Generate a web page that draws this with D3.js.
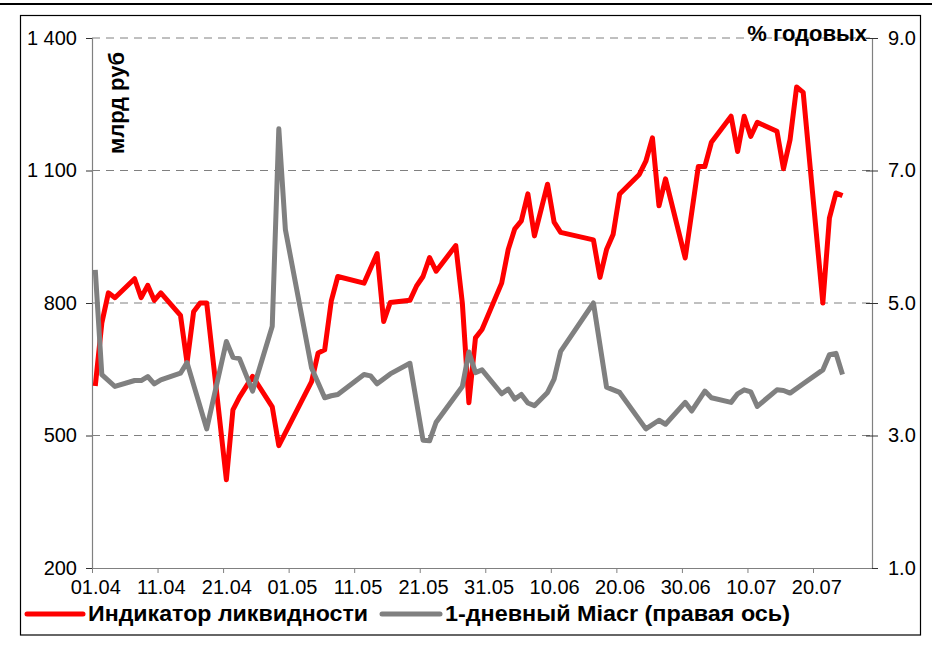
<!DOCTYPE html>
<html>
<head>
<meta charset="utf-8">
<script src="https://cdn.jsdelivr.net/npm/d3@7"></script>
<style>
    body { margin: 0; background: #fff; }
    svg { display: block; font-family: 'Liberation Sans', Arial, sans-serif; }
    .tick-label { font-size: 20px; fill: #000; }
    .title { font-size: 22px; font-weight: bold; fill: #000; }
    .legend-text { font-size: 22px; font-weight: bold; fill: #000; }
</style>
</head>
<body>
<div id="chart"></div>
<script>
// Liquidity indicator, bn rub (left axis)
const redDates = ['01.04','02.04','03.04','04.04','07.04','08.04','09.04','10.04','11.04','14.04',
    '15.04','16.04','17.04','18.04','21.04','22.04','23.04','25.04','28.04','29.04',
    '04.05','05.05','06.05','07.05','08.05','12.05','14.05','15.05','16.05','19.05',
    '20.05','21.05','22.05','23.05','26.05','27.05','28.05','29.05','30.05','02.06',
    '03.06','04.06','05.06','06.06','07.06','09.06','10.06','11.06','16.06','17.06',
    '18.06','19.06','20.06','23.06','24.06','25.06','26.06','27.06','30.06','02.07',
    '03.07','04.07','07.07','08.07','09.07','10.07','11.07','14.07','15.07','16.07',
    '17.07','18.07','21.07','22.07','23.07','24.07']
const redValues = [612, 755, 823, 812, 855, 812, 840, 806, 823, 772,
    665, 780, 800, 800, 400, 558, 587, 634, 565, 477,
    622, 687, 694, 804, 860, 845, 912, 758, 801, 806,
    838, 860, 903, 872, 930, 800, 574, 721, 740, 845,
    921, 968, 986, 1047, 952, 1069, 983, 960, 943, 858,
    921, 955, 1047, 1091, 1121, 1174, 1020, 1081, 902, 1109,
    1109, 1164, 1223, 1143, 1223, 1177, 1209, 1189, 1104, 1170,
    1289, 1277, 800, 992, 1049, 1043]

// 1-day Miacr, % (right axis)
const grayDates = ['01.04','02.04','04.04','07.04','08.04','09.04','10.04','11.04','14.04','15.04',
    '18.04','21.04','22.04','23.04','25.04','28.04','29.04','30.04','04.05','06.05',
    '07.05','08.05','12.05','13.05','14.05','16.05','19.05','21.05','22.05','23.05',
    '27.05','28.05','29.05','30.05','02.06','03.06','04.06','05.06','06.06','07.06',
    '09.06','10.06','11.06','16.06','18.06','20.06','24.06','26.06','27.06','30.06',
    '01.07','03.07','04.07','07.07','08.07','09.07','10.07','11.07','14.07','15.07',
    '16.07','18.07','21.07','22.07','23.07','24.07']
const grayValues = [5.50, 3.92, 3.74, 3.83, 3.83, 3.89, 3.78, 3.84, 3.94, 4.10,
    3.10, 4.42, 4.18, 4.16, 3.67, 4.65, 7.63, 6.11, 4.02, 3.57,
    3.60, 3.62, 3.92, 3.90, 3.78, 3.93, 4.09, 2.93, 2.92, 3.20,
    3.74, 4.26, 3.95, 3.99, 3.63, 3.70, 3.55, 3.62, 3.49, 3.45,
    3.65, 3.85, 4.27, 5.00, 3.73, 3.65, 3.10, 3.23, 3.17, 3.50,
    3.37, 3.67, 3.57, 3.50, 3.63, 3.69, 3.66, 3.44, 3.69, 3.68,
    3.64, 3.78, 3.99, 4.22, 4.24, 3.92]

const xTickDates = ['01.04','11.04','21.04','01.05','11.05','21.05','31.05','10.06','20.06','30.06','10.07','20.07']
const xDomain = ['01.04', '29.07']
const leftTicks = [200, 500, 800, 1100, 1400]
const rightTicks = [1, 3, 5, 7, 9]

const leftTitle = 'млрд руб'
const rightTitle = '% годовых'
const legendNames = ['Индикатор ликвидности', '1-дневный Miacr (правая ось)']

const width = 932
const height = 657
// plot area, in page pixels
const margin = { top: 38, right: 60, bottom: 89, left: 92 }

const parseDate = s => d3.timeParse('%d.%m.%Y')(s + '.2008')
// Excel puts each point in the middle of its day
const mid = s => d3.timeHour.offset(parseDate(s), 12)

const svg = d3.select('#chart')
    .append('svg')
    .attr('width', width)
    .attr('height', height)

const x = d3.scaleTime()
    .domain(xDomain.map(parseDate))
    .range([margin.left, width - margin.right])
const yLeft = d3.scaleLinear()
    .domain([200, 1400])
    .range([height - margin.bottom, margin.top])
const yRight = d3.scaleLinear()
    .domain([1, 9])
    .range([height - margin.bottom, margin.top])

// top rule and outer frame
svg.append('line')
    .attr('x1', 0).attr('x2', width)
    .attr('y1', 4).attr('y2', 4)
    .attr('stroke', '#000')
    .attr('stroke-width', 2)
svg.append('rect')
    .attr('x', 20.5).attr('y', 15.5)
    .attr('width', 900).attr('height', 619.5)
    .attr('fill', 'none')
    .attr('stroke', '#000')
    .attr('stroke-width', 1.2)

// dashed grid lines (not at the bottom, the x axis sits there)
svg.append('g')
    .selectAll('line')
    .data(leftTicks.slice(1))
    .enter()
    .append('line')
    .attr('x1', x.range()[0]).attr('x2', x.range()[1])
    .attr('y1', d => yLeft(d)).attr('y2', d => yLeft(d))
    .attr('stroke', '#808080')
    .attr('stroke-width', 1)
    .attr('stroke-dasharray', '8,6')

const fmtLeft = d => d3.format(',')(d).replace(',', ' ')

const leftAxis = svg.append('g')
    .attr('transform', `translate(${margin.left},0)`)
    .call(d3.axisLeft(yLeft).tickValues(leftTicks).tickFormat(fmtLeft).tickSize(6).tickPadding(9))
const rightAxis = svg.append('g')
    .attr('transform', `translate(${width - margin.right},0)`)
    .call(d3.axisRight(yRight).tickValues(rightTicks).tickFormat(d3.format('.1f')).tickSize(6).tickPadding(10))
rightAxis.selectAll('.tick line').attr('x1', -6)
const xAxis = svg.append('g')
    .attr('transform', `translate(0,${height - margin.bottom})`)
    .call(d3.axisBottom(x).tickValues(xTickDates.map(parseDate)).tickFormat(d3.timeFormat('%d.%m')).tickSize(5).tickPadding(7))
// labels centred on the day band, as Excel does
xAxis.selectAll('.tick text').attr('x', x(mid('01.04')) - x(parseDate('01.04')))

;[leftAxis, rightAxis, xAxis].forEach(a => {
    a.selectAll('.domain').attr('stroke', '#808080').attr('stroke-width', 1.2)
    a.selectAll('.tick line').attr('stroke', '#333')
    a.selectAll('text')
        .attr('class', 'tick-label')
        .attr('font-size', null)
        .attr('font-family', null)
})
xAxis.selectAll('.tick line').attr('stroke', '#808080')
leftAxis.select('.domain').attr('d', `M0.5,${yLeft.range()[0]}V${yLeft.range()[1]}`)
rightAxis.select('.domain').attr('d', `M0.5,${yRight.range()[0]}V${yRight.range()[1]}`)
xAxis.select('.domain').attr('d', `M${x.range()[0]},0.5H${x.range()[1]}`)

// series
const red = redDates.map((d, i) => ({ date: mid(d), value: redValues[i] }))
const gray = grayDates.map((d, i) => ({ date: mid(d), value: grayValues[i] }))

svg.append('path')
    .datum(red)
    .attr('fill', 'none')
    .attr('stroke', '#ff0000')
    .attr('stroke-width', 5)
    .attr('stroke-linejoin', 'round')
    .attr('d', d3.line().x(d => x(d.date)).y(d => yLeft(d.value)))

svg.append('path')
    .datum(gray)
    .attr('fill', 'none')
    .attr('stroke', '#808080')
    .attr('stroke-width', 5)
    .attr('stroke-linejoin', 'round')
    .attr('d', d3.line().x(d => x(d.date)).y(d => yRight(d.value)))

// axis titles
svg.append('text')
    .attr('class', 'title')
    .attr('transform', `translate(124,103) rotate(-90)`)
    .attr('text-anchor', 'middle')
    .text(leftTitle)
svg.append('text')
    .attr('class', 'title')
    .attr('x', 867)
    .attr('y', 41)
    .attr('text-anchor', 'end')
    .text(rightTitle)

// legend
const legend = svg.append('g')
const legendItems = [
    { name: legendNames[0], color: '#ff0000', x1: 27, x2: 83, len: 280 },
    { name: legendNames[1], color: '#808080', x1: 382, x2: 440, len: 345 }
]
legendItems.forEach(item => {
    legend.append('line')
        .attr('x1', item.x1).attr('x2', item.x2)
        .attr('y1', 614).attr('y2', 614)
        .attr('stroke', item.color)
        .attr('stroke-width', 5)
        .attr('stroke-linecap', 'round')
    legend.append('text')
        .attr('class', 'legend-text')
        .attr('x', item.x2 + 5)
        .attr('y', 621)
        .attr('textLength', item.len)
        .attr('lengthAdjust', 'spacingAndGlyphs')
        .text(item.name)
})
</script>
</body>
</html>
